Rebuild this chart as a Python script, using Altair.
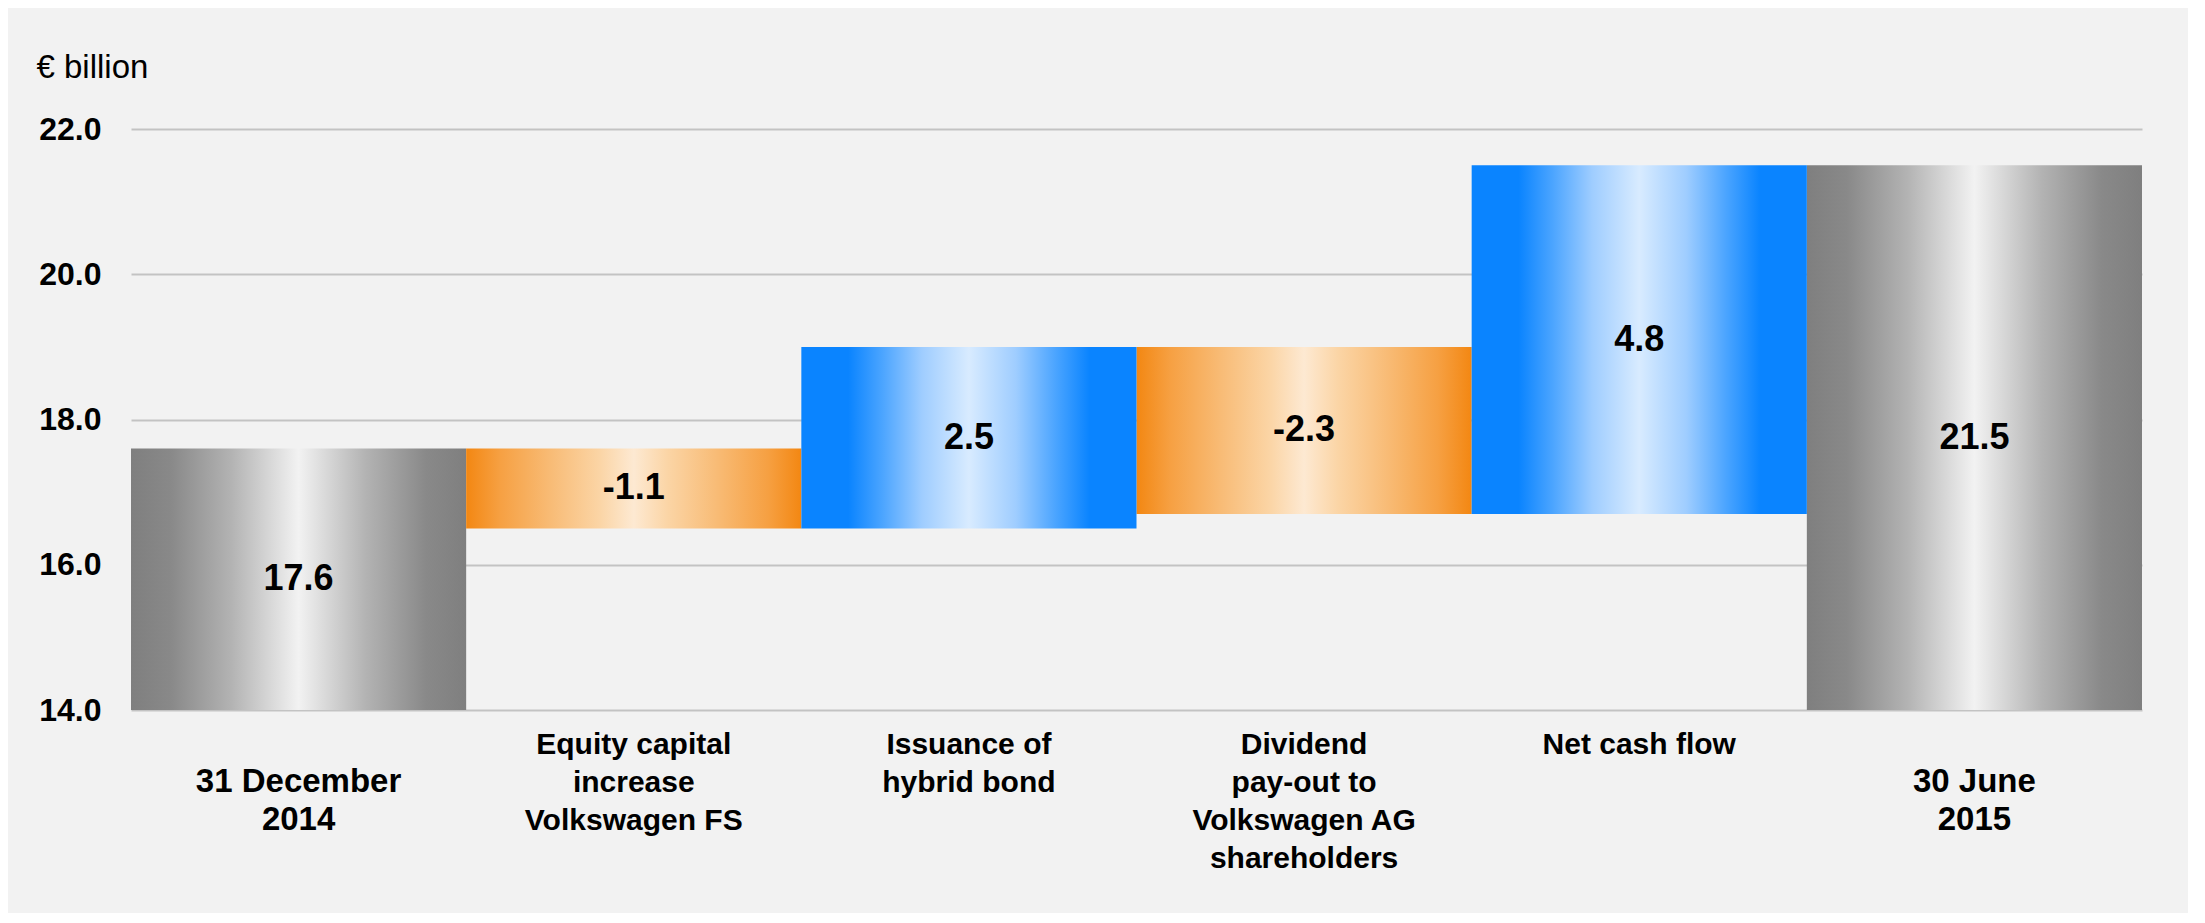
import altair as alt
import pandas as pd

# ---- data ----
categories = [
    "31 December|2014",
    "Equity capital|increase|Volkswagen FS",
    "Issuance of|hybrid bond",
    "Dividend|pay-out to|Volkswagen AG|shareholders",
    "Net cash flow",
    "30 June|2015",
]
kinds = ["total", "decrease", "increase", "decrease", "increase", "total"]
amounts = [17.6, -1.1, 2.5, -2.3, 4.8, 21.5]
y_ticks = [14.0, 16.0, 18.0, 20.0, 22.0]
y_min, y_max = 14.0, 22.0
unit_label = "€ billion"

# ---- waterfall geometry from the values ----
starts, ends = [], []
running = 0.0
for k, a in zip(kinds, amounts):
    if k == "total":
        starts.append(y_min)
        ends.append(a)
        running = a
    else:
        starts.append(running)
        running = round(running + a, 2)
        ends.append(running)

df = pd.DataFrame({
    "cat": categories,
    "kind": kinds,
    "amount": amounts,
    "start": starts,
    "end": ends,
})
df["mid"] = (df["start"] + df["end"]) / 2
df["label"] = [f"{a:.1f}" for a in amounts]  # plain hyphen-minus as in the reference

FONT = "Liberation Sans"
endpoints = [c for c, k in zip(categories, kinds) if k == "total"]
end_test = "indexof(" + str(endpoints) + ", datum.value) >= 0"

x_enc = alt.X(
    "cat:N",
    sort=categories,
    scale=alt.Scale(paddingInner=0, paddingOuter=0),
    axis=alt.Axis(
        title=None,
        labelAngle=0,
        labelExpr="split(datum.value, '|')",
        labelFont=FONT,
        labelFontWeight="bold",
        labelColor="#000000",
        labelFontSize=alt.ConditionalAxisNumber(
            condition={"test": end_test, "value": 33}, value=30
        ),
        labelPadding=alt.ConditionalAxisNumber(
            condition={"test": end_test, "value": 55}, value=19
        ),
        labelLineHeight=38,
        labelBaseline="top",
        labelLimit=400,
        ticks=False,
        tickSize=0,
        domain=False,
        grid=False,
    ),
)

y_scale = alt.Scale(domain=[y_min, y_max], nice=False, zero=False)
y_enc = alt.Y(
    "start:Q",
    scale=y_scale,
    axis=alt.Axis(
        values=y_ticks,
        format=".1f",
        title=unit_label,
        titleAngle=0,
        titleAlign="left",
        titleBaseline="alphabetic",
        titleX=-95,
        titleY=-52,
        titleFont=FONT,
        titleFontSize=33,
        titleFontWeight="normal",
        titleColor="#000000",
        labelFont=FONT,
        labelFontSize=32,
        labelFontWeight="bold",
        labelColor="#000000",
        labelPadding=30,
        ticks=False,
        domain=False,
        grid=True,
        gridColor="#c3c3c3",
        gridWidth=2,
    ),
)


def grad(stops):
    return alt.LinearGradient(
        gradient="linear",
        x1=0, x2=1, y1=0, y2=0,
        stops=[alt.GradientStop(offset=o, color=c) for o, c in stops],
    )


gray = grad([(0, "#7f7f7f"), (0.12, "#898989"), (0.3, "#b3b3b3"),
             (0.42, "#d9d9d9"), (0.5, "#f2f2f2"), (0.58, "#d9d9d9"),
             (0.7, "#b3b3b3"), (0.88, "#898989"), (1, "#7f7f7f")])
orange = grad([(0, "#f38712"), (0.1, "#f6a042"), (0.25, "#f8bb75"),
               (0.4, "#fbd5a6"), (0.5, "#fde9d2"), (0.6, "#fbd5a6"),
               (0.75, "#f8bb75"), (0.9, "#f6a042"), (1, "#f38712")])
blue = grad([(0, "#0a84ff"), (0.14, "#0a84ff"), (0.24, "#4aa4ff"),
             (0.36, "#9fcdff"), (0.5, "#d8ebff"), (0.64, "#9fcdff"),
             (0.76, "#4aa4ff"), (0.86, "#0a84ff"), (1, "#0a84ff")])

base = alt.Chart(df)


def bars(kind_filter, fill):
    return (
        base.transform_filter(kind_filter)
        .mark_bar(color=fill, strokeWidth=0)
        .encode(x=x_enc, y=y_enc, y2="end:Q")
    )


gray_bars = bars("datum.kind == 'total'", gray)
orange_bars = bars("datum.kind == 'decrease'", orange)
blue_bars = bars("datum.kind == 'increase'", blue)

labels = base.mark_text(
    font=FONT, fontSize=36, fontWeight="bold", color="#000000",
    baseline="middle", align="center",
).encode(
    x=x_enc,
    y=alt.Y("mid:Q", scale=y_scale),
    text=alt.Text("label:N"),
)

chart = (
    alt.layer(gray_bars, orange_bars, blue_bars, labels)
    .properties(
        width=2011,
        height=581,
        autosize=alt.AutoSizeParams(type="none"),
        padding={"left": 123, "top": 121, "right": 46, "bottom": 203},
        background="#f2f2f2",
    )
    .configure_view(stroke=None)
)

chart.save("out.html", embed_options={"renderer": "svg", "actions": False})
